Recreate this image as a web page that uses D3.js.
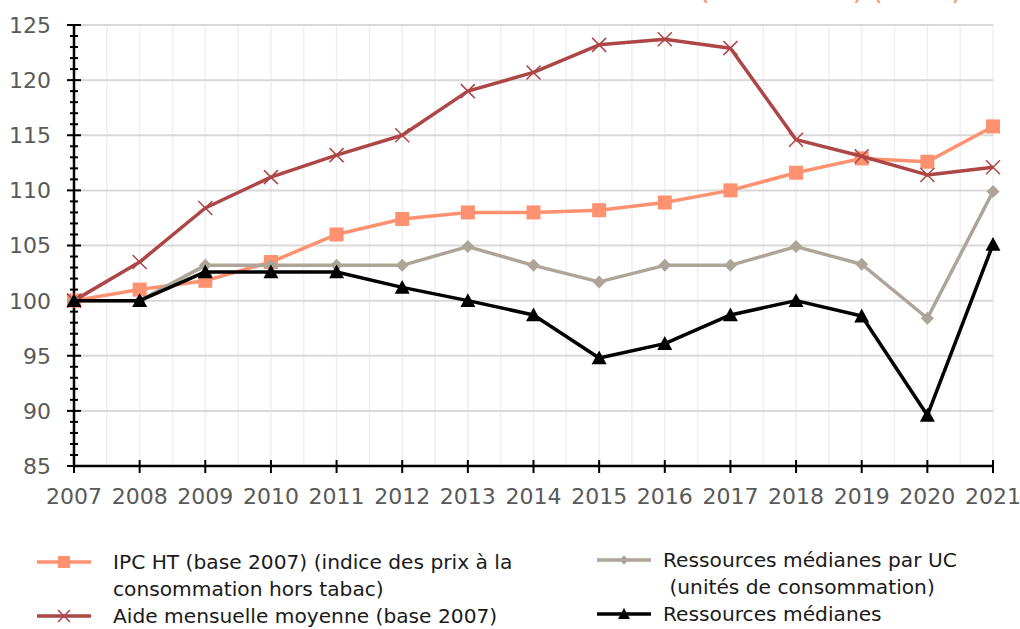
<!DOCTYPE html>
<html><head><meta charset="utf-8">
<script src="https://cdn.jsdelivr.net/npm/d3@7"></script>
<style>
html,body{margin:0;padding:0;background:#fff;}
svg{display:block;}
text{font-family:"DejaVu Sans","Open Sans",sans-serif;}
</style></head>
<body>
<svg id="chart" width="1020" height="629"></svg>
<script>
const years = [2007,2008,2009,2010,2011,2012,2013,2014,2015,2016,2017,2018,2019,2020,2021];
const ipc = [100,101,101.8,103.5,106.0,107.4,108.0,108.0,108.2,108.9,110.0,111.6,112.9,112.6,115.8];
const aide = [100,103.5,108.4,111.2,113.2,115.0,119.0,120.7,123.2,123.7,122.9,114.6,113.1,111.4,112.1];
const resUC = [100,100,103.2,103.2,103.2,103.2,104.9,103.2,101.7,103.2,103.2,104.9,103.3,98.4,109.9];
const resMed = [100,100,102.6,102.6,102.6,101.2,100,98.7,94.8,96.1,98.7,100,98.6,89.6,105.1];
const yTicks = [85,90,95,100,105,110,115,120,125];
const titleText = "Évolution des ressources et des aides mensuelles (base 2007) (en %)";
const legendItems = [
  {lines:["IPC HT (base 2007) (indice des prix à la","consommation hors tabac)"], key:"ipc"},
  {lines:["Aide mensuelle moyenne (base 2007)"], key:"aide"},
  {lines:["Ressources médianes par UC"," (unités de consommation)"], key:"resUC"},
  {lines:["Ressources médianes"], key:"resMed"}
];

const colors = {ipc:"#fe9170", aide:"#ad4646", resUC:"#ada598", resMed:"#000000"};
const svg = d3.select("#chart");
const x = d3.scaleLinear().domain([2007,2021]).range([74,993]);
const y = d3.scaleLinear().domain([85,125]).range([466,25]);

// title (cut off at top, as in the reference)
svg.append("text").attr("x",13).attr("y",-1.5).attr("font-size",26)
  .attr("fill","#fe9170").attr("textLength",949).attr("lengthAdjust","spacingAndGlyphs")
  .text(titleText);

// vertical grid every half year
const vgrid = d3.range(2007.5, 2021.01, 0.5);
svg.append("g").selectAll("line").data(vgrid).join("line")
  .attr("x1",d=>x(d)).attr("x2",d=>x(d)).attr("y1",y(125)).attr("y2",y(85))
  .attr("stroke","#efefef").attr("stroke-width",1.5);
// horizontal grid
svg.append("g").selectAll("line").data(yTicks.slice(1)).join("line")
  .attr("x1",x(2007)).attr("x2",x(2021)).attr("y1",d=>y(d)).attr("y2",d=>y(d))
  .attr("stroke","#d9d9d9").attr("stroke-width",2);

// y axis
const yAxisG = svg.append("g").attr("transform",`translate(${x(2007)},0)`);
yAxisG.append("line").attr("y1",y(125)).attr("y2",y(85)).attr("stroke","#000").attr("stroke-width",2.5);
const minor = d3.range(85,125.01,1);
yAxisG.selectAll("line.mt").data(minor).join("line").attr("class","mt")
  .attr("x1",d=>d%5===0?-7:-4).attr("x2",d=>d%5===0?7:4)
  .attr("y1",d=>y(d)).attr("y2",d=>y(d)).attr("stroke","#000").attr("stroke-width",2);
yAxisG.selectAll("text").data(yTicks).join("text")
  .attr("x",-23).attr("y",d=>y(d)).attr("dy","0.36em").attr("text-anchor","end")
  .attr("font-size",22).attr("fill","#595959").text(d=>d);

// x axis
const xAxisG = svg.append("g");
xAxisG.append("line").attr("x1",x(2007)).attr("x2",x(2021)).attr("y1",y(85)).attr("y2",y(85))
  .attr("stroke","#000").attr("stroke-width",2.5);
xAxisG.selectAll("line.xt").data(years).join("line").attr("class","xt")
  .attr("x1",d=>x(d)).attr("x2",d=>x(d)).attr("y1",y(85)-6).attr("y2",y(85)+7)
  .attr("stroke","#000").attr("stroke-width",2);
xAxisG.selectAll("text").data(years).join("text")
  .attr("x",d=>x(d)).attr("y",504).attr("text-anchor","middle")
  .attr("font-size",22).attr("fill","#595959").text(d=>d);

const series = [
  {key:"ipc", values:ipc},
  {key:"aide", values:aide},
  {key:"resUC", values:resUC},
  {key:"resMed", values:resMed}
];
const line = d3.line().x((d,i)=>x(years[i])).y(d=>y(d));

function marker(g, key, cx, cy, s) {
  const c = colors[key];
  if (key==="ipc") {
    g.append("rect").attr("x",cx-s/2).attr("y",cy-s/2).attr("width",s).attr("height",s).attr("fill",c);
  } else if (key==="aide") {
    const h = s/2;
    g.append("path").attr("d",`M${cx-h},${cy-h}L${cx+h},${cy+h}M${cx-h},${cy+h}L${cx+h},${cy-h}`)
      .attr("stroke",c).attr("stroke-width",1.5).attr("fill","none");
  } else if (key==="resUC") {
    const h = s/2;
    g.append("path").attr("d",`M${cx},${cy-h}L${cx+h},${cy}L${cx},${cy+h}L${cx-h},${cy}Z`).attr("fill",c);
  } else {
    const h = s/2;
    g.append("path").attr("d",`M${cx},${cy-h}L${cx+h},${cy+h*0.85}L${cx-h},${cy+h*0.85}Z`).attr("fill",c);
  }
}

const sizes = {ipc:14, aide:14, resUC:13, resMed:15};
series.forEach(s=>{
  svg.append("path").datum(s.values).attr("d",line).attr("fill","none")
    .attr("stroke",colors[s.key]).attr("stroke-width",3.5).attr("stroke-linejoin","round");
  const g = svg.append("g");
  s.values.forEach((v,i)=>marker(g, s.key, x(years[i]), y(v), sizes[s.key]));
});

// legend
const legPos = {
  ipc:{lx:37, tx:113, y:562},
  aide:{lx:37, tx:113, y:616},
  resUC:{lx:597, tx:663, y:560},
  resMed:{lx:597, tx:663, y:614}
};
legendItems.forEach(it=>{
  const p = legPos[it.key];
  const g = svg.append("g");
  g.append("line").attr("x1",p.lx).attr("x2",p.lx+54).attr("y1",p.y).attr("y2",p.y)
    .attr("stroke",colors[it.key]).attr("stroke-width",3.5);
  marker(g, it.key, p.lx+27, p.y, it.key==="resUC"?9:12);
  it.lines.forEach((t,j)=>{
    g.append("text").attr("x",p.tx).attr("y",p.y+j*27).attr("dy","0.35em")
      .attr("font-size",20.2).attr("fill","#1a1a1a").attr("xml:space","preserve").style("white-space","pre").text(t);
  });
});
</script>
</body></html>
